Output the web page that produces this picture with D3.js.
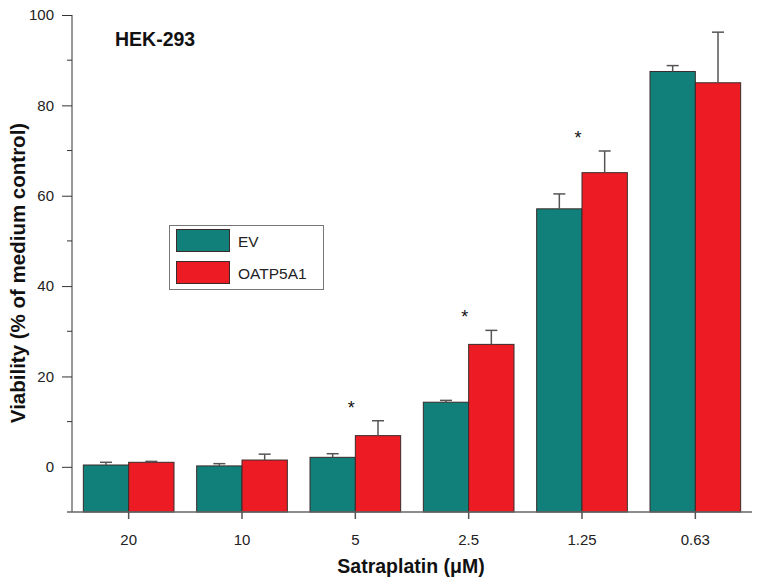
<!DOCTYPE html>
<html><head><meta charset="utf-8">
<script src="https://cdn.jsdelivr.net/npm/d3@7"></script>
<style>body{margin:0;background:#fff}svg{display:block}text{font-family:"Liberation Sans",Arial,sans-serif}</style>
</head><body>
<script>
const categories = ["20","10","5","2.5","1.25","0.63"];
const seriesNames = ["EV","OATP5A1"];
const evValues = [0.4, 0.2, 2.1, 14.3, 57.1, 87.5];
const evErrors = [0.6, 0.5, 0.8, 0.4, 3.3, 1.3];
const oatpValues = [1.0, 1.5, 6.9, 27.1, 65.1, 85.0];
const oatpErrors = [0.2, 1.3, 3.3, 3.1, 4.8, 11.2];
const significant = [false, false, true, true, true, false];
const yTicks = [0, 20, 40, 60, 80, 100];
const yMinorTicks = [10, 30, 50, 70, 90];
const colors = ["#12807A", "#ED1C24"];

const W = 760, H = 587;
const svg = d3.select("body").append("svg").attr("width", W).attr("height", H);

const x = d3.scaleBand().domain(categories).range([72, 752]).paddingInner(0.2).paddingOuter(0.1);
const xs = d3.scaleBand().domain(seriesNames).range([0, x.bandwidth()]);
const y = d3.scaleLinear().domain([-10, 100]).range([512, 15]);

const series = [
  {name: "EV", values: evValues, errors: evErrors},
  {name: "OATP5A1", values: oatpValues, errors: oatpErrors}
];

series.forEach((s, si) => {
  const g = svg.append("g");
  g.selectAll("rect").data(categories).join("rect")
    .attr("x", c => x(c) + xs(s.name))
    .attr("y", (c, i) => y(s.values[i]))
    .attr("width", xs.bandwidth())
    .attr("height", (c, i) => y(-10) - y(s.values[i]))
    .attr("fill", colors[si])
    .attr("stroke", "#3a2a2a").attr("stroke-width", 1);
  const eb = svg.append("g").attr("stroke", "#555").attr("stroke-width", 1.5);
  categories.forEach((c, i) => {
    const cx = x(c) + xs(s.name) + xs.bandwidth() / 2;
    const top = y(s.values[i] + s.errors[i]);
    eb.append("line").attr("x1", cx).attr("x2", cx).attr("y1", y(s.values[i])).attr("y2", top);
    eb.append("line").attr("x1", cx - 6).attr("x2", cx + 6).attr("y1", top).attr("y2", top);
  });
});

categories.forEach((c, i) => {
  if (!significant[i]) return;
  const top = y(oatpValues[i] + oatpErrors[i]);
  svg.append("text").attr("x", x(c) + x.bandwidth() / 2 - 4).attr("y", top - 7)
    .attr("text-anchor", "middle").attr("font-size", 18).attr("fill", "#111").text("*");
});

const yAxis = d3.axisLeft(y).tickValues(yTicks).tickSize(10).tickPadding(8);
const ga = svg.append("g").attr("transform", "translate(72,0)").call(yAxis);
ga.select(".domain").attr("d", `M0,${y(100)}V${y(-10)}`).attr("stroke", "#333");
ga.selectAll(".tick line").attr("stroke", "#333");
ga.selectAll("text").attr("font-size", 15).attr("fill", "#222").attr("font-family", '"Liberation Sans",Arial,sans-serif');
svg.append("g").selectAll("line").data(yMinorTicks).join("line")
  .attr("x1", 67).attr("x2", 72).attr("y1", d => y(d)).attr("y2", d => y(d)).attr("stroke", "#333");

const xAxis = d3.axisBottom(x).tickSize(7).tickPadding(15);
const gx = svg.append("g").attr("transform", `translate(0,${y(-10)})`).call(xAxis);
gx.select(".domain").attr("d", "M67,0H752").attr("stroke", "#666").attr("stroke-width", 1.5);
gx.selectAll(".tick line").attr("stroke", "#555").attr("stroke-width", 1.5);
gx.selectAll("text").attr("font-size", 15).attr("fill", "#222").attr("font-family", '"Liberation Sans",Arial,sans-serif');

svg.append("text").attr("x", 411).attr("y", 573).attr("text-anchor", "middle")
  .attr("font-size", 19.5).attr("font-weight", "bold").attr("fill", "#111").text("Satraplatin (μM)");
svg.append("text").attr("transform", "translate(25,273) rotate(-90)").attr("text-anchor", "middle")
  .attr("font-size", 20.5).attr("font-weight", "bold").attr("fill", "#111").text("Viability (% of medium control)");
svg.append("text").attr("x", 115).attr("y", 46).attr("font-size", 19.5).attr("font-weight", "bold")
  .attr("fill", "#111").text("HEK-293");

const lg = svg.append("g");
lg.append("rect").attr("x", 169.5).attr("y", 225.5).attr("width", 154).attr("height", 64)
  .attr("fill", "#fff").attr("stroke", "#777").attr("stroke-width", 1);
seriesNames.forEach((n, i) => {
  lg.append("rect").attr("x", 176.5).attr("y", 229.5 + i * 32).attr("width", 53).attr("height", 22)
    .attr("fill", colors[i]).attr("stroke", "#3a2a2a");
  lg.append("text").attr("x", 238).attr("y", 247 + i * 32).attr("font-size", 15.5).attr("fill", "#222").text(n);
});
</script>
</body></html>
